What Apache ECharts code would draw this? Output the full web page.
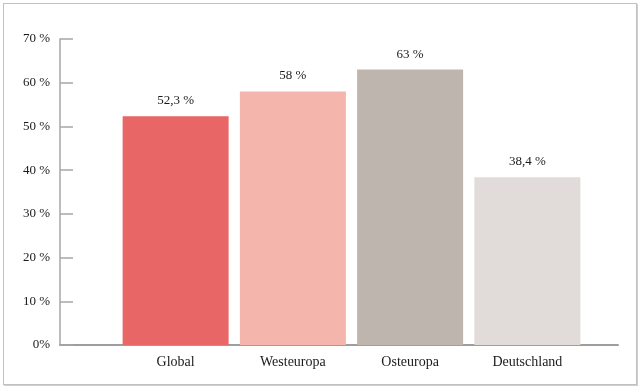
<!DOCTYPE html>
<html>
<head>
<meta charset="utf-8">
<script src="https://cdn.jsdelivr.net/npm/echarts@6/dist/echarts.min.js"></script>
<style>
html,body{margin:0;padding:0;background:#fff;}
#frame{position:absolute;left:3px;top:3px;width:632px;height:380px;border:1px solid #c4c0be;box-shadow:1px 1px 0 #d2cecc;}
#chart{position:absolute;left:0;top:0;width:640px;height:388px;}
</style>
</head>
<body>
<div id="frame"></div>
<div id="chart"></div>
<script>
const categories = ['Global', 'Westeuropa', 'Osteuropa', 'Deutschland'];
const values = [52.3, 58, 63, 38.4];
const valueLabels = ['52,3 %', '58 %', '63 %', '38,4 %'];
const barColors = ['#e86666', '#f4b5ac', '#bfb5af', '#e1dcd9'];
const yTicks = [0, 10, 20, 30, 40, 50, 60, 70];

const font = 'Liberation Serif';
const chart = echarts.init(document.getElementById('chart'), null, {renderer: 'canvas'});
chart.setOption({
  animation: false,
  grid: [
    {left: 60, right: 22, top: 39, bottom: 43},
    {left: 117, right: 54, top: 39, bottom: 43}
  ],
  xAxis: [
    {gridIndex: 0, type: 'category', data: [''], axisLine: {show: true, lineStyle: {color: '#9e9e9e', width: 2}},
     axisTick: {show: false}, axisLabel: {show: false}},
    {gridIndex: 1, type: 'category', data: categories, axisLine: {show: false}, axisTick: {show: false},
     axisLabel: {margin: 10, color: '#1a1a1a', fontFamily: font, fontSize: 14}}
  ],
  yAxis: [
    {gridIndex: 0, type: 'value', min: yTicks[0], max: yTicks[yTicks.length - 1], interval: 10,
     axisLine: {show: true, lineStyle: {color: '#a6a6a6', width: 1.5}},
     axisTick: {show: true, inside: true, length: 13, lineStyle: {color: '#a6a6a6', width: 1.5}},
     splitLine: {show: false},
     axisLabel: {margin: 10, color: '#1a1a1a', fontFamily: font, fontSize: 13,
       formatter: v => v === 0 ? '0%' : v + ' %'}},
    {gridIndex: 1, type: 'value', min: yTicks[0], max: yTicks[yTicks.length - 1], interval: 10, show: false}
  ],
  series: [{
    type: 'bar',
    xAxisIndex: 1, yAxisIndex: 1,
    barWidth: 106,
    data: values.map((v, i) => ({value: v, itemStyle: {color: barColors[i]}})),
    label: {show: true, position: 'top', distance: 9, color: '#1a1a1a', fontFamily: font, fontSize: 13,
      formatter: p => valueLabels[p.dataIndex]}
  }]
});
</script>
</body>
</html>
